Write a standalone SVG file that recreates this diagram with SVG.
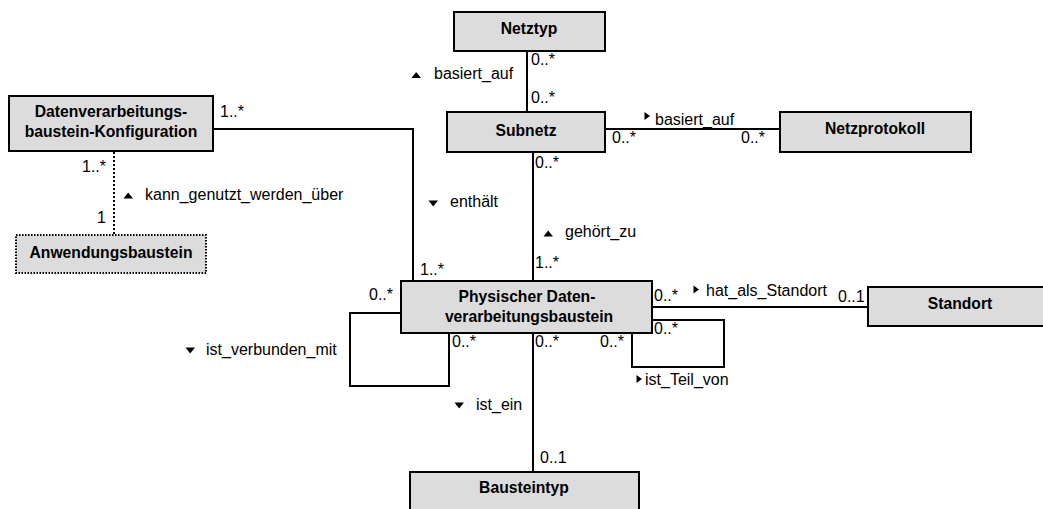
<svg xmlns="http://www.w3.org/2000/svg" width="1043" height="509" viewBox="0 0 1043 509">
<style>
.box{fill:#dcdcdc;stroke:#000;stroke-width:2}
.dot{fill:#dcdcdc;stroke:#000;stroke-width:2;stroke-dasharray:1.5 1.5}
.n{font-family:"Liberation Sans",Arial,sans-serif;font-size:15.7px;font-weight:bold;text-anchor:middle;fill:#000}
.l{font-family:"Liberation Sans",Arial,sans-serif;font-size:16px;fill:#000}
.c{fill:none;stroke:#000;stroke-width:2}
.tri{fill:#000}
</style>
<rect width="1043" height="509" fill="#fff"/>
<g id="connectors">
<line class="c" x1="527" y1="51" x2="527" y2="112"/>
<line class="c" x1="605" y1="129" x2="780" y2="129"/>
<path class="c" d="M213,129 H413 V281"/>
<line class="c" x1="114" y1="152" x2="114" y2="235" stroke-dasharray="2 2"/>
<line class="c" x1="533" y1="152" x2="533" y2="281"/>
<line class="c" x1="652" y1="307" x2="868" y2="307"/>
<line class="c" x1="533" y1="333" x2="533" y2="471"/>
<path class="c" d="M401,313 H350 V386 H449 V333"/>
<path class="c" d="M652,320 H724 V367 H632 V333"/>
</g>
<g id="node-netztyp">
<rect class="box" x="454" y="12" width="151" height="39"/>
<text class="n" x="529" y="34">Netztyp</text>
</g>
<g id="node-subnetz">
<rect class="box" x="447" y="112" width="158" height="40"/>
<text class="n" x="526" y="136">Subnetz</text>
</g>
<g id="node-netzprotokoll">
<rect class="box" x="780" y="112" width="191" height="40"/>
<text class="n" x="875" y="134">Netzprotokoll</text>
</g>
<g id="node-konfiguration">
<rect class="box" x="9" y="96" width="204" height="55"/>
<text class="n" x="111" y="117">Datenverarbeitungs-</text>
<text class="n" x="111" y="137">baustein-Konfiguration</text>
</g>
<g id="node-anwendungsbaustein">
<rect class="dot" x="16" y="235" width="190" height="38"/>
<text class="n" x="111" y="258">Anwendungsbaustein</text>
</g>
<g id="node-physischer">
<rect class="box" x="401" y="281" width="251" height="52"/>
<text class="n" x="527" y="302">Physischer Daten-</text>
<text class="n" x="529" y="322">verarbeitungsbaustein</text>
</g>
<g id="node-standort">
<rect class="box" x="868" y="287" width="184" height="39"/>
<text class="n" x="960" y="309">Standort</text>
</g>
<g id="node-bausteintyp">
<rect class="box" x="410" y="472" width="229" height="45"/>
<text class="n" x="524" y="493">Bausteintyp</text>
</g>
<g id="labels">
<text class="l" x="531" y="65">0..*</text>
<text class="l" x="531" y="103">0..*</text>
<polygon class="tri" points="411.5,78 421,78 416.2,72"/>
<text class="l" x="434" y="79">basiert_auf</text>
<polygon class="tri" points="644.5,112 644.5,120 650,116"/>
<text class="l" x="655" y="125">basiert_auf</text>
<text class="l" x="612" y="143">0..*</text>
<text class="l" x="741" y="143">0..*</text>
<text class="l" x="535" y="168">0..*</text>
<text class="l" x="220" y="117">1..*</text>
<text class="l" x="82" y="172">1..*</text>
<text class="l" x="97" y="223">1</text>
<polygon class="tri" points="123.5,198.5 133,198.5 128.2,192.5"/>
<text class="l" x="145" y="200">kann_genutzt_werden_über</text>
<polygon class="tri" points="428.5,200.5 438,200.5 433.2,206.5"/>
<text class="l" x="450" y="207">enthält</text>
<polygon class="tri" points="543.5,236.5 553,236.5 548.2,230.5"/>
<text class="l" x="565" y="237">gehört_zu</text>
<text class="l" x="420" y="275">1..*</text>
<text class="l" x="535" y="268">1..*</text>
<text class="l" x="369" y="300">0..*</text>
<polygon class="tri" points="185.5,347.5 195,347.5 190.2,353.5"/>
<text class="l" x="206" y="355">ist_verbunden_mit</text>
<text class="l" x="452" y="347">0..*</text>
<text class="l" x="535" y="347">0..*</text>
<text class="l" x="600" y="347">0..*</text>
<text class="l" x="654" y="301">0..*</text>
<text class="l" x="654" y="334">0..*</text>
<polygon class="tri" points="693.5,285.5 693.5,293.5 699,289.5"/>
<text class="l" x="706" y="296">hat_als_Standort</text>
<text class="l" x="838" y="302">0..1</text>
<polygon class="tri" points="636.5,375 636.5,383 642,379"/>
<text class="l" x="645" y="385">ist_Teil_von</text>
<polygon class="tri" points="454.5,402.5 464,402.5 459.2,408.5"/>
<text class="l" x="476" y="410">ist_ein</text>
<text class="l" x="540" y="463">0..1</text>
</g>
</svg>
